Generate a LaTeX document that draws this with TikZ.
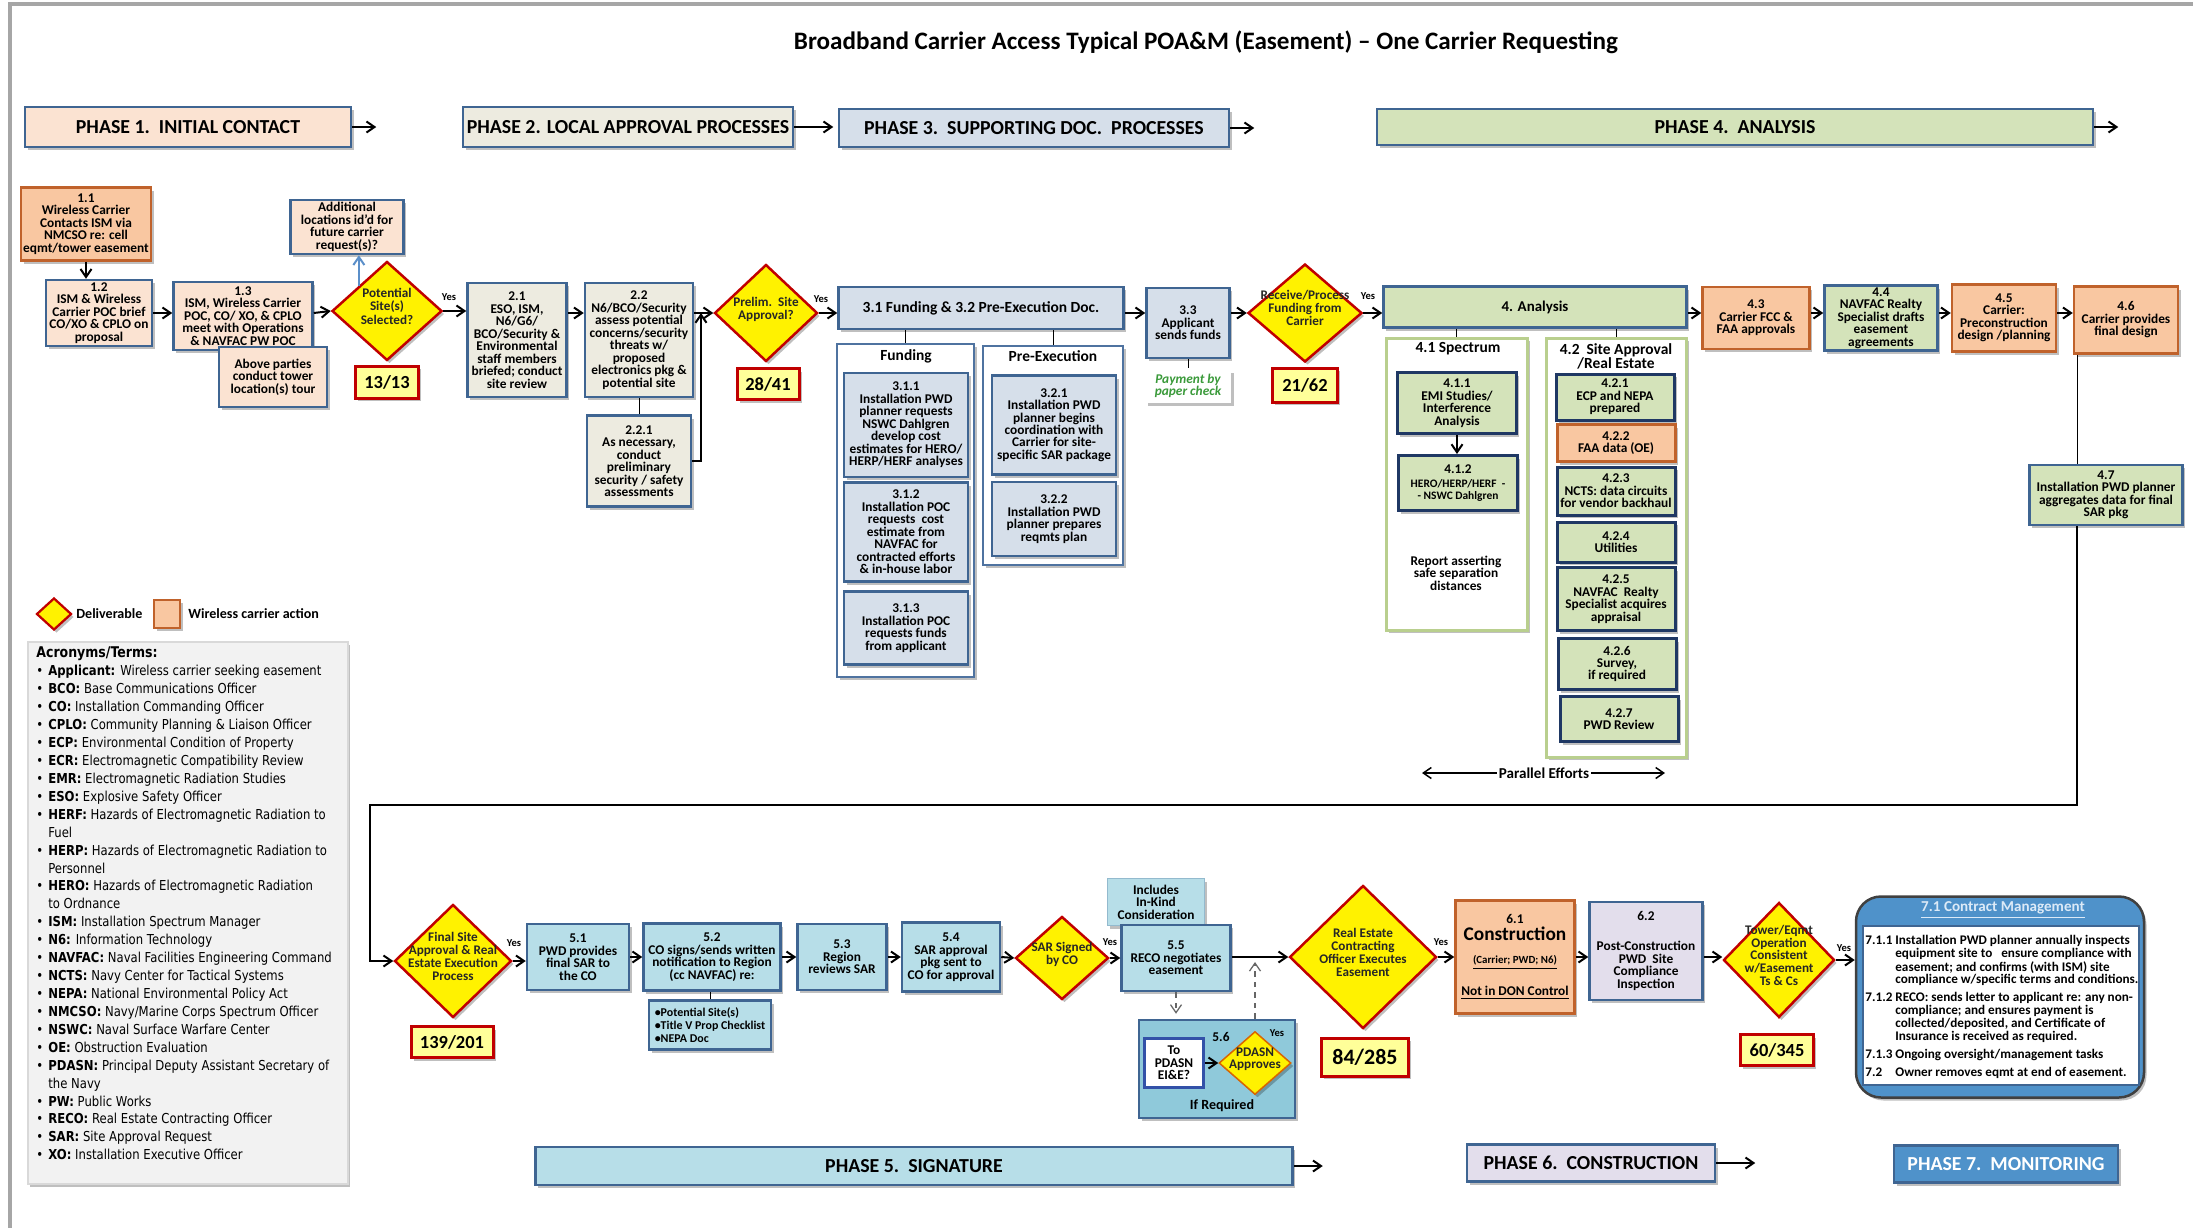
\documentclass[tikz,border=0pt]{standalone}
\usepackage{fontspec}
\setmainfont{Carlito}
\newfontfamily\acrfont{DejaVu Sans}[FakeStretch=0.85]
\usetikzlibrary{arrows.meta,shapes.geometric,shadows}

\newdimen\upx \upx=0.2mm
\newcommand\bxfont{\fontsize{7.6}{7.1}\selectfont\bfseries}
\newcommand\dtext[1]{\smash{\makebox[0pt]{\begin{tabular}{@{}c@{}}#1\end{tabular}}}}

\definecolor{edgeBlue}{HTML}{3F6592}
\definecolor{peachFill}{HTML}{FBE3D2}
\definecolor{carrierFill}{HTML}{F9C7A1}
\definecolor{carrierEdge}{HTML}{C0622B}
\definecolor{beigeFill}{HTML}{EDEBE0}
\definecolor{supportFill}{HTML}{D6DFEA}
\definecolor{analysisFill}{HTML}{D4E3BA}
\definecolor{navyEdge}{HTML}{1F3864}
\definecolor{groupGreen}{HTML}{B9CF8E}
\definecolor{groupBlue}{HTML}{4F73A0}
\definecolor{signFill}{HTML}{B7DEE8}
\definecolor{signDeep}{HTML}{8FC9DA}
\definecolor{buildFill}{HTML}{E3DEEC}
\definecolor{mgmtBlue}{HTML}{4F92CA}
\definecolor{mgmtLight}{HTML}{DCEAF7}
\definecolor{delivRed}{HTML}{C00000}
\definecolor{countFill}{HTML}{FFFF99}
\definecolor{payGreen}{HTML}{3A9A3A}
\definecolor{frameGray}{HTML}{A6A6A6}
\definecolor{legendGray}{HTML}{F2F2F2}
\definecolor{noteBlue}{HTML}{5B8FC9}

\tikzset{%
  >={Straight Barb[length=1.6mm,width=2.2mm]},
  dims/.style 2 args = {minimum width=#1\upx, minimum height=#2\upx},
  plain/.style = {rectangle, draw=edgeBlue, line width=0.5mm,
      align=center, inner sep=0pt, font=\bxfont},
  base/.style = {plain, drop shadow={shadow xshift=0.5mm, shadow yshift=-0.6mm,
      fill=black, opacity=0.25}},
  initialStep/.style = {base, fill=peachFill},
  carrierAction/.style = {base, draw=carrierEdge, fill=carrierFill},
  localStep/.style = {base, fill=beigeFill},
  supportStep/.style = {base, fill=supportFill},
  analysisStep/.style = {base, fill=analysisFill},
  studyStep/.style = {analysisStep, draw=navyEdge, line width=0.6mm},
  signStep/.style = {base, fill=signFill},
  buildStep/.style = {base, fill=buildFill},
  phaseBar/.style = {base, font=\fontsize{11.3}{12}\selectfont\bfseries},
  groupBox/.style = {base, fill=white, draw=groupBlue, line width=0.4mm},
  deliverable/.style = {diamond, draw=delivRed, line width=0.5mm, fill=yellow,
      text=black!85, inner sep=0pt, font=\fontsize{7.5}{7.3}\selectfont\bfseries,
      drop shadow={shadow xshift=0.5mm, shadow yshift=-0.6mm, fill=black, opacity=0.25}},
  countBox/.style = {base, draw=delivRed, line width=0.6mm, fill=countFill,
      font=\fontsize{10.5}{12}\selectfont\bfseries},
  yesLabel/.style = {inner sep=0pt, font=\fontsize{6}{7}\selectfont\bfseries},
  groupLabel/.style = {inner sep=0pt, align=center, font=\fontsize{8.8}{8}\selectfont\bfseries},
  link/.style = {->, line width=0.4mm},
}

\begin{document}
\begin{tikzpicture}[x=0.2mm, y=-0.2mm]
  \useasboundingbox (0,0) rectangle (2193,1228);
  \draw[frameGray, line width=0.7mm] (10,1228) -- (10,4) -- (2193,4);

  % Title and phase bars
  \node (title) [font=\fontsize{14.3}{16}\selectfont\bfseries] at (1206,42)
        {Broadband Carrier Access Typical POA\&M (Easement) -- One Carrier Requesting};
  \node (phase1) [phaseBar, fill=peachFill, dims={326}{40}] at (188,127) {PHASE 1.\ \ INITIAL CONTACT};
  \node (phase2) [phaseBar, fill=beigeFill, dims={330}{40}] at (628,127) {PHASE 2. LOCAL APPROVAL PROCESSES};
  \node (phase3) [phaseBar, fill=supportFill, dims={390}{38}] at (1034,128) {PHASE 3.\ \ SUPPORTING DOC.\ \ PROCESSES};
  \node (phase4) [phaseBar, fill=analysisFill, dims={716}{36}] at (1735,127) {PHASE 4.\ \ ANALYSIS};
  \node (phase5) [phaseBar, fill=signFill, dims={757}{38}] at (914,1166) {PHASE 5.\ \ SIGNATURE};
  \node (phase6) [phaseBar, fill=buildFill, dims={248}{37}] at (1591,1163) {PHASE 6.\ \ CONSTRUCTION};
  \node (phase7) [phaseBar, fill=mgmtBlue, text=white, dims={224}{37}] at (2006,1164) {PHASE 7.\ \ MONITORING};

  % Phase 1 and 2 (position, etc.)
  \coordinate (rowTop) at (0,313);
  \node (n11) [carrierAction, dims={130}{73}] at (86,224)
        {1.1\\Wireless Carrier\\Contacts ISM via\\NMCSO re: cell\\eqmt/tower easement};
  \node (n12) [initialStep, dims={106}{66}] at (99,313)
        {1.2\\ISM \& Wireless\\Carrier POC brief\\CO/XO \& CPLO on\\proposal};
  \node (n13) [initialStep, dims={139}{68}] at (243,316)
        {1.3\\ISM, Wireless Carrier\\POC, CO/ XO, \& CPLO\\meet with Operations\\\& NAVFAC PW POC};
  \node (tour) [initialStep, dims={108}{60}] at (273,377) {Above parties\\conduct tower\\location(s) tour};
  \node (moreSites) [initialStep, dims={113}{54}] at (347,227)
        {Additional\\locations id’d for\\future carrier\\request(s)?};
  \node (sitesSel) [deliverable, dims={110}{99}] at (387,311) {\dtext{Potential\\Site(s)\\Selected?}};
  \node (count1) [countBox, dims={63}{32}] at (387,382) {13/13};
  \node (yes1) [yesLabel] at (449,297) {Yes};
  \node (n21) [localStep, dims={99}{114}] at (517,340)
        {2.1\\ESO, ISM,\\N6/G6/\\BCO/Security \&\\Environmental\\staff members\\briefed; conduct\\site review};
  \node (n22) [localStep, dims={108}{114}] at (639,340)
        {2.2\\N6/BCO/Security\\assess potential\\concerns/security\\threats w/\\proposed\\electronics pkg \&\\potential site};
  \node (n221) [localStep, dims={104}{91}] at (639,461)
        {2.2.1\\As necessary,\\conduct\\preliminary\\security / safety\\assessments};
  \coordinate (backIn) at (701,313);
  \node (prelim) [deliverable, dims={103}{97}] at (766,313) {\dtext{Prelim.\ \ Site\\Approval?}};
  \node (count2) [countBox, dims={62}{31}] at (768,384) {28/41};
  \node (yes2) [yesLabel] at (821,299) {Yes};

  % Phase 3
  \node (n31h) [supportStep, dims={285}{42}, font=\fontsize{8.8}{9}\selectfont\bfseries] at (981,308)
        {3.1 Funding \& 3.2 Pre-Execution Doc.};
  \node (fundGroup) [groupBox, dims={137}{333}] at (905.5,510.5) {};
  \node (preGroup) [groupBox, dims={140}{219}] at (1053,455.5) {};
  \node (fundLabel) [groupLabel] at (906,356) {Funding};
  \node (preLabel) [groupLabel] at (1053,356) {Pre-Execution};
  \node (n311) [supportStep, dims={124}{104}] at (906,425)
        {3.1.1\\Installation PWD\\planner requests\\NSWC Dahlgren\\develop cost\\estimates for HERO/\\HERP/HERF analyses};
  \node (n312) [supportStep, dims={124}{99}] at (906,532)
        {3.1.2\\Installation POC\\requests\ \ cost\\estimate from\\NAVFAC for\\contracted efforts\\\& in-house labor};
  \node (n313) [supportStep, dims={124}{73}] at (906,628)
        {3.1.3\\Installation POC\\requests funds\\from applicant};
  \node (n321) [supportStep, dims={124}{99}] at (1054,425)
        {3.2.1\\Installation PWD\\planner begins\\coordination with\\Carrier for site-\\specific SAR package};
  \node (n322) [supportStep, dims={124}{74}] at (1054,519)
        {3.2.2\\Installation PWD\\planner prepares\\reqmts plan};
  \node (n33) [supportStep, dims={83}{70}] at (1188,323) {3.3\\Applicant\\sends funds};
  \node (payment) [base, draw=none, fill=white, dims={86}{33}, text=payGreen,
        font=\fontsize{7.6}{7.1}\selectfont\bfseries\itshape] at (1188,386) {Payment by\\paper check};
  \node (fundsIn) [deliverable, dims={114}{98}] at (1305,313) {\dtext{Receive/Process\\Funding from\\Carrier}};
  \node (count3) [countBox, dims={65}{34}] at (1305,385) {21/62};
  \node (yes3) [yesLabel] at (1368,296) {Yes};

  % Phase 4
  \node (n4h) [analysisStep, dims={303}{41}, font=\fontsize{8.5}{9}\selectfont\bfseries] at (1535,307) {4. Analysis};
  \node (specGroup) [groupBox, draw=groupGreen, line width=0.6mm, dims={141}{292}] at (1456.5,484) {};
  \node (siteGroup) [groupBox, draw=groupGreen, line width=0.6mm, dims={140}{419}] at (1616,547.5) {};
  \node (specLabel) [groupLabel] at (1458,349) {4.1 Spectrum};
  \node (siteLabel) [groupLabel] at (1616,356) {4.2\ \ Site Approval\\/Real Estate};
  \node (n411) [studyStep, dims={119}{61}] at (1457,403) {4.1.1\\EMI Studies/\\Interference\\Analysis};
  \node (n412) [studyStep, dims={119}{55}] at (1458,483)
        {4.1.2\\[1pt]{\fontsize{6.5}{8}\selectfont HERO/HERP/HERF\ \ -}\\{\fontsize{6.5}{8}\selectfont - NSWC Dahlgren}};
  \node (report) [inner sep=0pt, align=center, font=\bxfont] at (1456,573)
        {Report asserting\\safe separation\\distances};
  \node (n421) [studyStep, dims={118}{46}] at (1615,397) {4.2.1\\ECP and NEPA\\prepared};
  \node (n422) [carrierAction, line width=0.6mm, dims={118}{37}] at (1616,443) {4.2.2\\FAA data (OE)};
  \node (n423) [studyStep, dims={118}{48}] at (1616,491) {4.2.3\\NCTS: data circuits\\for vendor backhaul};
  \node (n424) [studyStep, dims={118}{40}] at (1616,542) {4.2.4\\Utilities};
  \node (n425) [studyStep, dims={118}{63}] at (1616,599) {4.2.5\\NAVFAC\ \ Realty\\Specialist acquires\\appraisal};
  \node (n426) [studyStep, dims={118}{51}] at (1617,664) {4.2.6\\Survey,\\if required};
  \node (n427) [studyStep, dims={118}{45}] at (1619,719) {4.2.7\\PWD Review};
  \node (parallel) [inner sep=1pt, font=\fontsize{8.6}{9}\selectfont\bfseries] at (1544,773) {Parallel Efforts};
  \coordinate (parallelL) at (1422,773);
  \coordinate (parallelR) at (1665,773);
  \node (n43) [carrierAction, dims={107}{62}] at (1756,318) {4.3\\Carrier FCC \&\\FAA approvals};
  \node (n44) [analysisStep, dims={113}{65}] at (1881,318)
        {4.4\\NAVFAC Realty\\Specialist drafts\\easement\\agreements};
  \node (n45) [carrierAction, dims={104}{67}] at (2004,318) {4.5\\Carrier:\\Preconstruction\\design /planning};
  \node (n46) [carrierAction, dims={104}{67}] at (2126,320) {4.6\\Carrier provides\\final design};
  \node (n47) [analysisStep, dims={153}{60}] at (2106,495)
        {4.7\\Installation PWD planner\\aggregates data for final\\SAR pkg};
  \coordinate (loopA) at (2077,805);
  \coordinate (loopB) at (370,805);

  % Phase 5
  \coordinate (rowBottom) at (0,957);
  \node (finalSite) [deliverable, dims={117}{113}] at (453,961)
        {\dtext{Final Site\\Approval \& Real\\Estate Execution\\Process}};
  \node (count4) [countBox, dims={82}{31}] at (452,1042) {139/201};
  \node (yes4) [yesLabel] at (514,943) {Yes};
  \node (n51) [signStep, dims={102}{66}] at (578,957) {5.1\\PWD provides\\final SAR to\\the CO};
  \node (n52) [signStep, dims={137}{67}] at (712,957)
        {5.2\\CO signs/sends written\\notification to Region\\(cc NAVFAC) re:};
  \node (n52list) [signStep, dims={122}{49}, align=left, font=\fontsize{6.8}{7.6}\selectfont\bfseries] at (710,1025)
        {•Potential Site(s)\\•Title V Prop Checklist\\•NEPA Doc};
  \node (n53) [signStep, dims={89}{66}] at (842,957) {5.3\\Region\\reviews SAR};
  \node (n54) [signStep, dims={98}{69}] at (951,957) {5.4\\SAR approval\\pkg sent to\\CO for approval};
  \node (sarSigned) [deliverable, dims={93}{83}] at (1062,958) {\dtext{SAR Signed\\by CO}};
  \node (yes5) [yesLabel] at (1110,942) {Yes};
  \node (inKind) [signStep, draw=signFill!70!edgeBlue, line width=0.3mm, dims={97}{47}] at (1156,902)
        {Includes\\In-Kind\\Consideration};
  \node (n55) [signStep, dims={109}{66}] at (1176,958) {5.5\\RECO negotiates\\easement};
  \node (n56) [signStep, fill=signDeep, dims={156}{98}] at (1217,1069) {};
  \node (toPdasn) [plain, fill=white, line width=0.5mm, draw=edgeBlue!80!blue, dims={59}{49}] at (1174,1063)
        {To\\PDASN\\EI\&E?};
  \node (pdasnOk) [deliverable, draw=delivRed!60!yellow, line width=0.3mm, dims={72}{63}] at (1255,1063)
        {\dtext{PDASN\\Approves}};
  \node (n56num) [yesLabel, font=\bxfont] at (1221,1037) {5.6};
  \node (yes6) [yesLabel] at (1277,1033) {Yes};
  \node (ifReq) [yesLabel, font=\fontsize{8}{8}\selectfont\bfseries] at (1222,1106) {If Required};

  % Phase 6 and 7
  \node (easement) [deliverable, dims={147}{143}] at (1363,957)
        {\dtext{Real Estate\\Contracting\\Officer Executes\\Easement}};
  \node (count5) [countBox, dims={87}{38}, font=\fontsize{12.5}{14}\selectfont\bfseries] at (1365,1057) {84/285};
  \node (yes7) [yesLabel] at (1441,942) {Yes};
  \node (n61) [carrierAction, dims={119}{113}] at (1515,957)
        {6.1\\[1pt]{\fontsize{11}{11}\selectfont Construction}\\[6pt]{\fontsize{6.2}{7}\selectfont\underline{(Carrier; PWD; N6)}}\\[9pt]\underline{Not in DON Control}};
  \node (n62) [buildStep, dims={113}{98}] at (1646,951)
        {6.2\\[10pt]Post-Construction\\PWD\ \ Site\\Compliance\\Inspection};
  \node (towerOk) [deliverable, dims={111}{115}, font=\fontsize{7.5}{6.6}\selectfont\bfseries] at (1779,960)
        {\dtext{Tower/Eqmt\\Operation\\Consistent\\w/Easement\\Ts \& Cs}};
  \node (count6) [countBox, dims={73}{31}] at (1777,1050) {60/345};
  \node (yes8) [yesLabel] at (1844,948) {Yes};
  \node (mgmt) [base, fill=mgmtBlue, draw=black!75, rounded corners=5mm, dims={288}{201}] at (2000,997) {};
  \node (mgmtBody) [plain, fill=white, line width=0.35mm, dims={276}{159}] at (2001,1005.5) {};
  \node (mgmtTitle) [inner sep=0pt, text=mgmtLight, font=\fontsize{8.6}{9}\selectfont\bfseries] at (2003,910)
        {\underline{7.1 Contract Management}};
  \node (mgmtText) [anchor=north west, inner sep=0pt, font=\fontsize{7.5}{7}\selectfont\bfseries] at (1865,935)
        {\begin{tabular}{@{}p{30\upx}@{}l@{}}
         7.1.1 & Installation PWD planner annually inspects\\
               & equipment site to \ \ ensure compliance with\\
               & easement; and confirms (with ISM) site\\
               & compliance w/specific terms and conditions.\\[2.8pt]
         7.1.2 & RECO: sends letter to applicant re: any non-\\
               & compliance; and ensures payment is\\
               & collected/deposited, and Certificate of\\
               & Insurance is received as required.\\[2.8pt]
         7.1.3 & Ongoing oversight/management tasks\\[2.8pt]
         7.2   & Owner removes eqmt at end of easement.
         \end{tabular}};

  % Legend
  \node (legDeliv) [deliverable, line width=0.45mm, dims={35}{32}] at (54,614) {};
  \node (legDelivTxt) [anchor=west, inner sep=0pt, font=\fontsize{8}{9}\selectfont\bfseries] at (76,614) {Deliverable};
  \node (legCarrier) [carrierAction, dims={26}{28}] at (167,614) {};
  \node (legCarrierTxt) [anchor=west, inner sep=0pt, font=\fontsize{8}{9}\selectfont\bfseries] at (188,614)
        {Wireless carrier action};
  \node (acronyms) [base, draw=black!15, fill=legendGray, line width=0.3mm, anchor=north west, dims={320}{542}]
        at (27,641) {};
  \node (acronymText) [anchor=north west, inner sep=0pt, font=\acrfont\fontsize{7.8}{10.2}\selectfont] at (36,645)
        {\begin{tabular}{@{}p{12\upx}@{}l@{}}
         \multicolumn{2}{@{}l}{\fontsize{8.4}{10.2}\selectfont\bfseries Acronyms/Terms:}\\
         \textbullet & \textbf{Applicant:} Wireless carrier seeking easement\\
         \textbullet & \textbf{BCO:} Base Communications Officer\\
         \textbullet & \textbf{CO:} Installation Commanding Officer\\
         \textbullet & \textbf{CPLO:} Community Planning \& Liaison Officer\\
         \textbullet & \textbf{ECP:} Environmental Condition of Property\\
         \textbullet & \textbf{ECR:} Electromagnetic Compatibility Review\\
         \textbullet & \textbf{EMR:} Electromagnetic Radiation Studies\\
         \textbullet & \textbf{ESO:} Explosive Safety Officer\\
         \textbullet & \textbf{HERF:} Hazards of Electromagnetic Radiation to\\
                     & Fuel\\
         \textbullet & \textbf{HERP:} Hazards of Electromagnetic Radiation to\\
                     & Personnel\\
         \textbullet & \textbf{HERO:} Hazards of Electromagnetic Radiation\\
                     & to Ordnance\\
         \textbullet & \textbf{ISM:} Installation Spectrum Manager\\
         \textbullet & \textbf{N6:} Information Technology\\
         \textbullet & \textbf{NAVFAC:} Naval Facilities Engineering Command\\
         \textbullet & \textbf{NCTS:} Navy Center for Tactical Systems\\
         \textbullet & \textbf{NEPA:} National Environmental Policy Act\\
         \textbullet & \textbf{NMCSO:} Navy/Marine Corps Spectrum Officer\\
         \textbullet & \textbf{NSWC:} Naval Surface Warfare Center\\
         \textbullet & \textbf{OE:} Obstruction Evaluation\\
         \textbullet & \textbf{PDASN:} Principal Deputy Assistant Secretary of\\
                     & the Navy\\
         \textbullet & \textbf{PW:} Public Works\\
         \textbullet & \textbf{RECO:} Real Estate Contracting Officer\\
         \textbullet & \textbf{SAR:} Site Approval Request\\
         \textbullet & \textbf{XO:} Installation Executive Officer
         \end{tabular}};

  % Specification of lines between nodes specified above
  \draw[link] (phase1.east) -- ++(24,0);
  \draw[link] (phase2.east) -- ++(39,0);
  \draw[link] (phase3.east) -- ++(24,0);
  \draw[link] (phase4.east) -- ++(24,0);
  \draw[link] (phase5.east) -- ++(29,0);
  \draw[link] (phase6.east) -- ++(39,0);

  \draw[link] (n11.south) -- (n11.south |- n12.north);
  \draw[link] (n12.east |- rowTop) -- (n13.west |- rowTop);
  \draw[link] (n13.east |- rowTop) -- (sitesSel.west);
  \draw[link, draw=noteBlue] (sitesSel.north west) -- (sitesSel.north west |- moreSites.south);
  \draw[link] (sitesSel.east) -- (n21.west |- sitesSel.east);
  \draw[link] (n21.east |- rowTop) -- (n22.west |- rowTop);
  \draw       (n22.south) -- (n221.north);
  \draw[link] (n221.east) -| (backIn);
  \draw[link] (n22.east |- rowTop) -- (prelim.west);
  \draw[link] (prelim.east) -- (n31h.west |- prelim.east);
  \draw       (n31h.south -| fundGroup.north) -- (fundGroup.north);
  \draw       (n31h.south -| preGroup.north) -- (preGroup.north);
  \draw[link] (n31h.east |- rowTop) -- (n33.west |- rowTop);
  \draw       (n33.south) -- (payment.north);
  \draw[link] (n33.east |- rowTop) -- (fundsIn.west);
  \draw[link] (fundsIn.east) -- (n4h.west |- fundsIn.east);
  \draw       (n4h.south -| specGroup.north) -- (specGroup.north);
  \draw       (n4h.south -| siteGroup.north) -- (siteGroup.north);
  \draw[link] (n411.south) -- (n411.south |- n412.north);
  \draw[link, line width=0.3mm] (parallel.west) -- (parallelL);
  \draw[link, line width=0.3mm] (parallel.east) -- (parallelR);
  \draw[link] (n4h.east |- rowTop) -- (n43.west |- rowTop);
  \draw[link] (n43.east |- rowTop) -- (n44.west |- rowTop);
  \draw[link] (n44.east |- rowTop) -- (n45.west |- rowTop);
  \draw[link] (n45.east |- rowTop) -- (n46.west |- rowTop);
  \draw       (n46.south -| loopA) -- (n47.north -| loopA);
  \draw[link] (n47.south -| loopA) -- (loopA) -- (loopB) |- (finalSite.west);

  \draw[link] (finalSite.east) -- (n51.west |- finalSite.east);
  \draw[link] (n51.east |- rowBottom) -- (n52.west |- rowBottom);
  \draw       (n52list.north |- n52.south) -- (n52list.north);
  \draw[link] (n52.east |- rowBottom) -- (n53.west |- rowBottom);
  \draw[link] (n53.east |- rowBottom) -- (n54.west |- rowBottom);
  \draw[link] (n54.east |- rowBottom) -- (sarSigned.west);
  \draw[link] (sarSigned.east) -- (n55.west |- sarSigned.east);
  \draw[link] (n55.east |- rowBottom) -- (easement.west);
  \draw[->, dashed, black!60, line width=0.25mm, shorten >=1mm] (n55.south) -- (n55.south |- n56.north);
  \draw[->, dashed, black!60, line width=0.25mm, shorten >=1mm] (pdasnOk.north |- n56.north) -- (pdasnOk.north |- rowBottom);
  \draw[link] (toPdasn.east) -- (pdasnOk.west);
  \draw[link] (easement.east) -- (n61.west |- easement.east);
  \draw[link] (n61.east |- rowBottom) -- (n62.west |- rowBottom);
  \draw[link] (n62.east |- rowBottom) -- (towerOk.west |- rowBottom);
  \draw[link] (towerOk.east) -- (mgmt.west |- towerOk.east);
\end{tikzpicture}
\end{document}
